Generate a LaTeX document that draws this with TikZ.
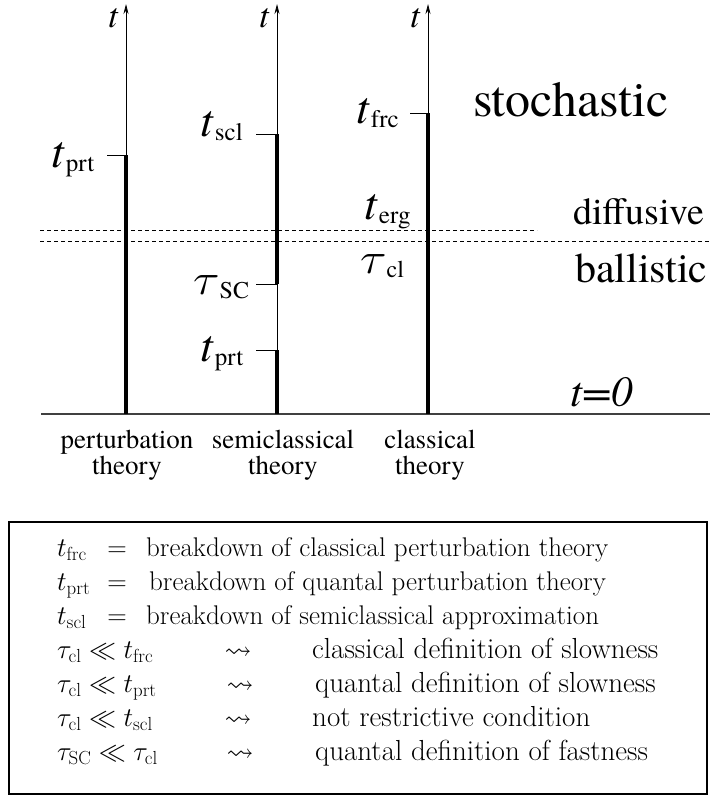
\RequirePackage{fix-cm}
\documentclass[tikz,border=0pt]{standalone}
\usepackage{graphicx}
\usepackage{amssymb}
\usepackage{fontspec}
\IfFontExistsTF{TeX Gyre Termes}
  {\newfontfamily\timesfam{TeX Gyre Termes}}
  {\newfontfamily\timesfam{Latin Modern Roman}[Scale=0.92]}
\usetikzlibrary{arrows.meta}
\newcommand\mylab[2]{{\timesfam\fontsize{46}{46}\selectfont\itshape #1}\kern2pt{\timesfam\fontsize{25}{25}\selectfont\raisebox{-4pt}{#2}}}
\newcommand\mytau[1]{{\fontsize{44}{44}\selectfont\scalebox{1.12}[1]{$\tau$}}{\timesfam\fontsize{24}{24}\selectfont\raisebox{-4pt}{#1}}}
\begin{document}
\begin{tikzpicture}[x=1pt,y=-1pt,
  axisline/.style={line width=0.8pt,-{Stealth[length=10pt,width=5pt]}},
  bar/.style={line width=4.6pt},
  tickline/.style={line width=0.8pt},
  dashline/.style={line width=0.7pt,dash pattern=on 4pt off 3pt},
  lbl/.style={inner sep=0pt,anchor=base west},
  axlbl/.style={inner sep=0pt,anchor=base east,font=\timesfam\fontsize{35}{35}\selectfont\itshape},
  region/.style={inner sep=0pt,anchor=base west},
  theory/.style={inner sep=0pt,anchor=north,align=center,font=\timesfam\fontsize{27}{26}\selectfont},
  boxtxt/.style={inner sep=0pt,anchor=base west,font=\fontsize{27}{31}\selectfont},
  boxtxtb/.style={inner sep=0pt,anchor=base west,font=\fontsize{29}{31}\selectfont},
  boxmid/.style={inner sep=0pt,anchor=base,font=\fontsize{27}{31}\selectfont}]
\useasboundingbox (0,0) rectangle (710,796);

% baseline
\coordinate (bl) at (41,414);
\coordinate (br) at (710,414);
\draw[line width=1.3pt,black!75] (bl) -- (br);

% dashed lines
\coordinate (d1l) at (40,230); \coordinate (d1r) at (537,230);
\coordinate (d2l) at (40,241); \coordinate (d2r) at (710,241);
\draw[dashline] (d1l) -- (d1r);
\draw[dashline] (d2l) -- (d2r);

% axes
\coordinate (a1b) at (126,414); \coordinate (a1t) at (126,4);
\coordinate (a2b) at (277,414); \coordinate (a2t) at (277,4);
\coordinate (a3b) at (428,414); \coordinate (a3t) at (428,4);
\draw[axisline] (a1b) -- (a1t);
\draw[axisline] (a2b) -- (a2t);
\draw[axisline] (a3b) -- (a3t);
\node[axlbl] (t1) at (118,27) {t};
\node[axlbl] (t2) at (269,27) {t};
\node[axlbl] (t3) at (420,27) {t};

% axis 1
\coordinate (p1) at (126,155); \coordinate (p1k) at (107,155);
\draw[bar] (p1) -- (a1b);
\draw[tickline] (p1k) -- (p1);
\node[lbl] (lprt1) at (51,167) {\mylab{t}{prt}};

% axis 2
\coordinate (s1) at (277,134); \coordinate (s1k) at (256,134);
\coordinate (s2) at (277,284); \coordinate (s2k) at (256,284);
\coordinate (s3) at (277,350); \coordinate (s3k) at (256,350);
\draw[bar] (s1) -- (s2);
\draw[bar] (s3) -- (a2b);
\draw[tickline] (s1k) -- (s1);
\draw[tickline] (s2k) -- (s2);
\draw[tickline] (s3k) -- (s3);
\node[lbl] (lscl) at (200,136) {\mylab{t}{scl}};
\node[lbl] (lsc) at (193,294) {\mytau{SC}};
\node[lbl] (lprt2) at (200,361) {\mylab{t}{prt}};

% axis 3
\coordinate (c1) at (428,113); \coordinate (c1k) at (410,113);
\draw[bar] (c1) -- (a3b);
\draw[tickline] (c1k) -- (c1);
\node[lbl] (lfrc) at (356,123) {\mylab{t}{frc}};
\node[lbl] (lerg) at (364,219) {\mylab{t}{erg}};
\node[lbl] (lcl) at (360,273) {\mytau{cl}};

% regions
\node[region,font=\timesfam\fontsize{50}{50}\selectfont] (sto) at (473,116) {stochastic};
\node[region,font=\timesfam\fontsize{38}{38}\selectfont] (dif) at (573,224) {diffusive};
\node[region,font=\timesfam\fontsize{42}{42}\selectfont] (bal) at (575,282) {ballistic};
\node[region,font=\timesfam\fontsize{43}{43}\selectfont\itshape] (t0) at (570,406) {t=0};

% theory labels
\node[theory] (th1) at (127,430) {perturbation\\theory};
\node[theory] (th2) at (283,430) {semiclassical\\theory};
\node[theory] (th3) at (430,430) {classical\\theory};

% legend box
\coordinate (bx1) at (9,522); \coordinate (bx2) at (707,794);
\draw[line width=1.6pt] (bx1) rectangle (bx2);
\node[boxtxt] (r1a) at (57,556) {$t_{\mathrm{frc}}$};
\node[boxmid] (r1b) at (117,556) {$=$};
\node[boxtxt] (r1c) at (146,556) {breakdown of classical perturbation theory};
\node[boxtxt] (r2a) at (57,590) {$t_{\mathrm{prt}}$};
\node[boxmid] (r2b) at (117,590) {$=$};
\node[boxtxt] (r2c) at (149,590) {breakdown of quantal perturbation theory};
\node[boxtxt] (r3a) at (57,624) {$t_{\mathrm{scl}}$};
\node[boxmid] (r3b) at (117,624) {$=$};
\node[boxtxt] (r3c) at (146,624) {breakdown of semiclassical approximation};
\node[boxtxt] (r4a) at (57,658) {$\tau_{\mathrm{cl}}\ll t_{\mathrm{frc}}$};
\node[boxmid] (r4b) at (238,658) {$\leadsto$};
\node[boxtxtb] (r4c) at (312,658) {classical definition of slowness};
\node[boxtxt] (r5a) at (57,692) {$\tau_{\mathrm{cl}}\ll t_{\mathrm{prt}}$};
\node[boxmid] (r5b) at (240,692) {$\leadsto$};
\node[boxtxtb] (r5c) at (315,692) {quantal definition of slowness};
\node[boxtxt] (r6a) at (57,726) {$\tau_{\mathrm{cl}}\ll t_{\mathrm{scl}}$};
\node[boxmid] (r6b) at (238,726) {$\leadsto$};
\node[boxtxtb] (r6c) at (312,726) {not restrictive condition};
\node[boxtxt] (r7a) at (57,760) {$\tau_{\mathrm{SC}}\ll \tau_{\mathrm{cl}}$};
\node[boxmid] (r7b) at (240,760) {$\leadsto$};
\node[boxtxtb] (r7c) at (315,760) {quantal definition of fastness};
\end{tikzpicture}
\end{document}
